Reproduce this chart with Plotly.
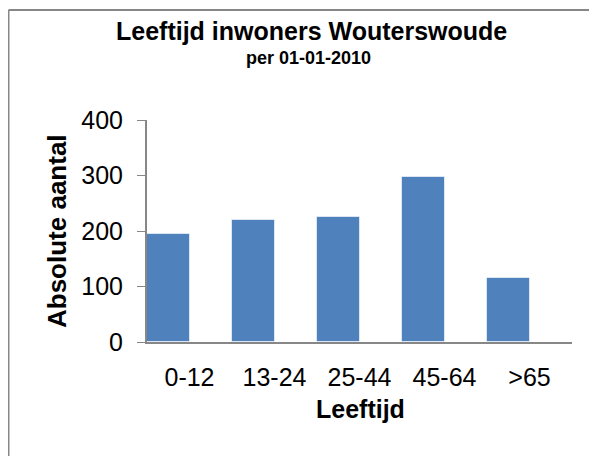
import plotly.graph_objects as go

categories = ["0-12", "13-24", "25-44", "45-64", ">65"]
values = [194, 220, 225, 297, 116]
y_ticks = [0, 100, 200, 300, 400]

title_text = "Leeftijd inwoners Wouterswoude"
subtitle_text = "per 01-01-2010"
x_title = "Leeftijd"
y_title = "Absolute aantal"

# the page body has an 8px margin; lay out in screen pixels and shift by it
OFF = 8
W, H = 597 - OFF, 456 - OFF
L, R, T, B = 147 - OFF, 25, 120 - OFF, 114
PW, PH = W - L - R, H - T - B

def px(x):
    return (x - OFF - L) / PW

def py(y):
    return 1 - (y - OFF - T) / PH

FONT = "Liberation Sans, Arial, sans-serif"
AXIS = "#878787"

fig = go.Figure()
fig.add_trace(go.Bar(
    x=categories, y=values,
    width=0.5, offset=-0.5,
    marker=dict(color="#4F81BD", line=dict(color="rgba(255,255,255,0.6)", width=1)),
))

fig.update_layout(
    width=W, height=H,
    margin=dict(l=L, r=R, t=T, b=B, pad=0),
    paper_bgcolor="white", plot_bgcolor="white",
    font=dict(family=FONT, color="black", size=25),
    showlegend=False,
    bargap=0,
    xaxis=dict(
        range=[-0.5, 4.5], showline=True, linecolor=AXIS, linewidth=2,
        ticks="", showgrid=False, zeroline=False,
        tickfont=dict(size=25), ticklabelstandoff=12,
    ),
    yaxis=dict(
        range=[0, 400], tickvals=y_ticks, showline=True, linecolor=AXIS, linewidth=2,
        ticks="outside", ticklen=8, tickcolor=AXIS, tickwidth=1,
        showgrid=False, zeroline=False,
        tickfont=dict(size=25), ticklabelstandoff=9,
    ),
    shapes=[
        dict(type="line", xref="paper", yref="paper", x0=px(8.5), x1=px(600), y0=py(10), y1=py(10),
             line=dict(color=AXIS, width=2)),
        dict(type="line", xref="paper", yref="paper", x0=px(8.5), x1=px(8.5), y0=py(10), y1=py(460),
             line=dict(color=AXIS, width=2)),
    ],
    annotations=[
        dict(text="<b>%s</b>" % title_text, xref="paper", yref="paper", x=px(311), y=py(31),
             xanchor="center", yanchor="middle", showarrow=False, font=dict(size=25)),
        dict(text="<b>%s</b>" % subtitle_text, xref="paper", yref="paper", x=px(308), y=py(58),
             xanchor="center", yanchor="middle", showarrow=False, font=dict(size=18)),
        dict(text="<b>%s</b>" % x_title, xref="paper", yref="paper", x=px(360), y=py(409),
             xanchor="center", yanchor="middle", showarrow=False, font=dict(size=25)),
        dict(text="<b>%s</b>" % y_title, xref="paper", yref="paper", x=px(57), y=py(231),
             xanchor="center", yanchor="middle", showarrow=False, textangle=-90, font=dict(size=26)),
    ],
)

fig.write_html("out.html")
